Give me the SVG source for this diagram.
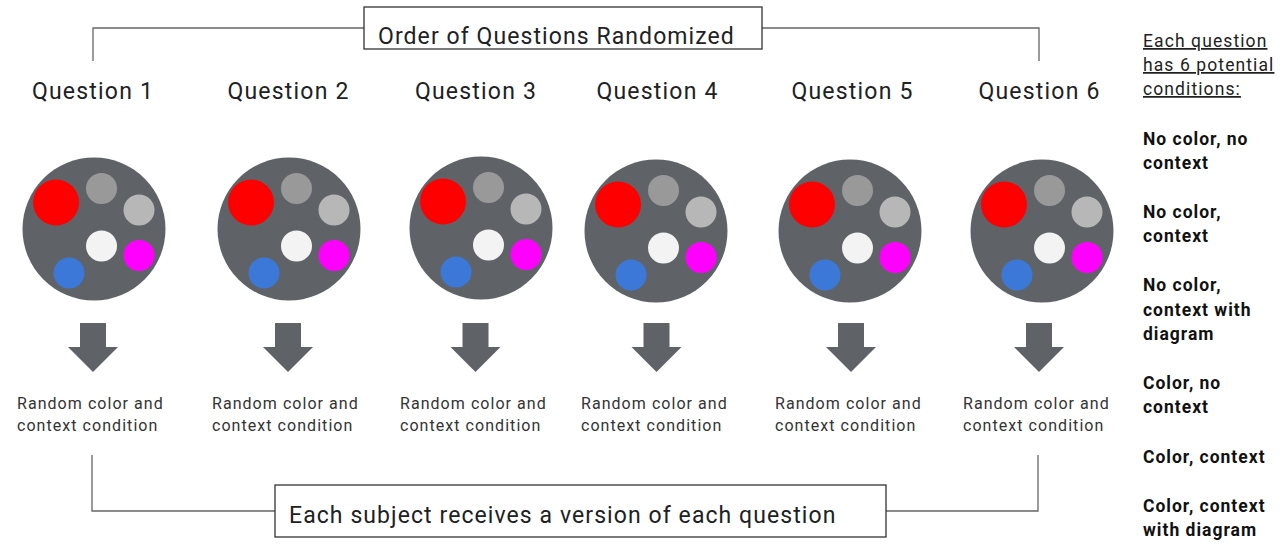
<svg xmlns="http://www.w3.org/2000/svg" width="1284" height="550" viewBox="0 0 1284 550">
<style>
text{font-family:Roboto,"Liberation Sans",sans-serif;}
.q{font-size:23px;fill:#202124;text-anchor:middle;letter-spacing:1.2px;}
.r{font-size:16px;fill:#333;letter-spacing:1.05px;}
.box{fill:#fff;stroke:#333;stroke-width:1.3;}
.bt{font-size:23px;fill:#202124;letter-spacing:1.08px;}
.ln{fill:none;stroke:#666;stroke-width:1.3;}
.side{font-size:17.5px;fill:#222;letter-spacing:1.1px;}
.sb{font-size:17.5px;fill:#111;font-weight:bold;letter-spacing:1px;}
.big{fill:#5f6368;}
.arr{fill:#5f6368;}
</style>
<defs>
<g id="disc">
<circle cx="0" cy="0" r="71.5" class="big"/>
<circle cx="-38" cy="-26.5" r="23" fill="#ff0000"/>
<circle cx="7.5" cy="-40.5" r="15.5" fill="#999999"/>
<circle cx="45" cy="-19" r="15.5" fill="#b7b7b7"/>
<circle cx="7.5" cy="17" r="15.5" fill="#f3f3f3"/>
<circle cx="45" cy="26.5" r="15.5" fill="#ff00ff"/>
<circle cx="-25" cy="44" r="15.5" fill="#3c78d8"/>
</g>
<path id="arrow" d="M-13,0 H13 V24 H25 L0,49 L-25,24 H-13 Z"/>
</defs>
<g id="connectors">
<polyline class="ln" points="93,61 93,28 364,28"/>
<polyline class="ln" points="762,28 1039,28 1039,61"/>
<polyline class="ln" points="92,455 92,511 275,511"/>
<polyline class="ln" points="886,511 1038,511 1038,455"/>
</g>
<g id="top-box">
<rect class="box" x="364" y="7" width="398" height="42"/>
<text class="bt" x="378" y="44">Order of Questions Randomized</text>
</g>
<g id="bottom-box">
<rect class="box" x="275" y="485" width="611" height="52"/>
<text class="bt" x="289" y="523">Each subject receives a version of each question</text>
</g>
<g id="question1">
<text class="q" x="93" y="99">Question 1</text>
<use href="#disc" x="94" y="229"/>
<use href="#arrow" class="arr" x="93" y="323"/>
<text class="r" x="17" y="409">Random color and</text>
<text class="r" x="17" y="431">context condition</text>
</g>
<g id="question2">
<text class="q" x="288.5" y="99">Question 2</text>
<use href="#disc" x="289" y="229"/>
<use href="#arrow" class="arr" x="288" y="323"/>
<text class="r" x="212" y="409">Random color and</text>
<text class="r" x="212" y="431">context condition</text>
</g>
<g id="question3">
<text class="q" x="476" y="99">Question 3</text>
<use href="#disc" x="481" y="228"/>
<use href="#arrow" class="arr" x="475.5" y="323"/>
<text class="r" x="400" y="409">Random color and</text>
<text class="r" x="400" y="431">context condition</text>
</g>
<g id="question4">
<text class="q" x="657.5" y="99">Question 4</text>
<use href="#disc" x="656" y="231"/>
<use href="#arrow" class="arr" x="656.5" y="323"/>
<text class="r" x="581" y="409">Random color and</text>
<text class="r" x="581" y="431">context condition</text>
</g>
<g id="question5">
<text class="q" x="852.5" y="99">Question 5</text>
<use href="#disc" x="850" y="231"/>
<use href="#arrow" class="arr" x="851" y="323"/>
<text class="r" x="775" y="409">Random color and</text>
<text class="r" x="775" y="431">context condition</text>
</g>
<g id="question6">
<text class="q" x="1039.5" y="99">Question 6</text>
<use href="#disc" x="1042" y="231"/>
<use href="#arrow" class="arr" x="1039" y="323"/>
<text class="r" x="963" y="409">Random color and</text>
<text class="r" x="963" y="431">context condition</text>
</g>
<g id="conditions">
<text class="side" x="1143" y="47" text-decoration="underline">Each question</text>
<text class="side" x="1143" y="71" text-decoration="underline">has 6 potential</text>
<text class="side" x="1143" y="95" text-decoration="underline">conditions:</text>
<text class="sb" x="1143" y="145">No color, no</text>
<text class="sb" x="1143" y="169">context</text>
<text class="sb" x="1143" y="218">No color,</text>
<text class="sb" x="1143" y="242">context</text>
<text class="sb" x="1143" y="291">No color,</text>
<text class="sb" x="1143" y="316">context with</text>
<text class="sb" x="1143" y="340">diagram</text>
<text class="sb" x="1143" y="389">Color, no</text>
<text class="sb" x="1143" y="413">context</text>
<text class="sb" x="1143" y="463">Color, context</text>
<text class="sb" x="1143" y="512">Color, context</text>
<text class="sb" x="1143" y="536">with diagram</text>
</g>
</svg>
